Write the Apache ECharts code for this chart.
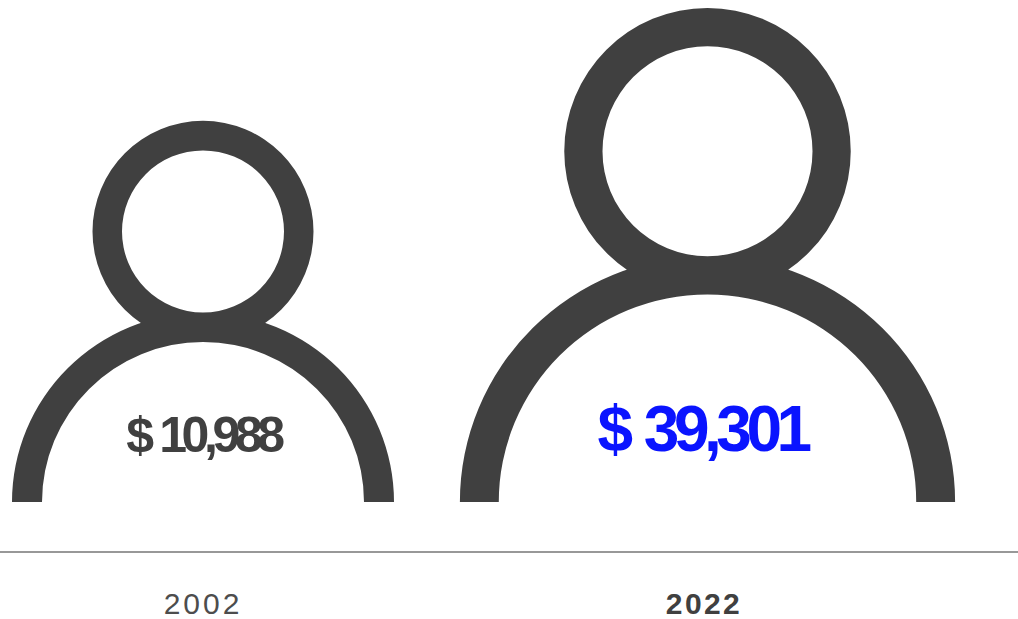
<!DOCTYPE html>
<html>
<head>
<meta charset="utf-8">
<style>
html, body { margin: 0; padding: 0; background: #fff; }
#main { width: 1018px; height: 619px; overflow: hidden; }
/* canvas text has no tracking option, so the svg renderer + css does it */
#main text[style*="50px"] { letter-spacing: -5.4px; word-spacing: 2px; }
#main text[style*="64px"] { letter-spacing: -5.5px; word-spacing: 4px; }
#main text[style*="30px"] { letter-spacing: 2.4px; }
#main text[fill="#4d4d4d"] { letter-spacing: 3px; }
</style>
<script src="https://cdn.jsdelivr.net/npm/echarts@6/dist/echarts.min.js"></script>
</head>
<body>
<div id="main"></div>
<script>
var years = ['2002', '2022'];
var income = [10988, 39301];
var iconWidths = [382, 495];
var iconHeights = [381, 494];

// person icon: head ring + arch body, in the small icon's pixels
var personPath = 'path://' +
    'M80.5 110.5A110.5 110.5 0 1 1 301.5 110.5A110.5 110.5 0 1 1 80.5 110.5Z' +
    'M272 110.5A81 81 0 1 0 110 110.5A81 81 0 1 0 272 110.5Z' +
    'M0 381A191 189.5 0 0 1 382 381L352 381A161 160 0 0 0 30 381Z';

var dark = '#404040';
var blue = '#0a14ff';

var chart = echarts.init(document.getElementById('main'), null, { renderer: 'svg' });

var option = {
    animation: false,
    grid: { left: -47.5, top: 0, width: 1503, height: 551.5, outerBoundsMode: 'none' },
    xAxis: {
        type: 'category',
        // third empty band only carries the axis line to the page edge
        data: [
            { value: years[0], textStyle: { fontSize: 30, color: '#4d4d4d' } },
            { value: years[1], textStyle: { fontSize: 30, fontWeight: 'bold', color: dark } },
            ''
        ],
        axisLine: { lineStyle: { color: '#767676', width: 1.5 } },
        axisTick: { show: false },
        axisLabel: { margin: 37, fontFamily: 'Liberation Sans', interval: 0 }
    },
    yAxis: { type: 'value', min: 0, max: 60000, show: false },
    series: [{
        type: 'pictorialBar',
        symbol: personPath,
        symbolPosition: 'start',
        silent: true,
        data: [
            {
                value: income[0],
                symbolSize: [iconWidths[0], iconHeights[0]],
                symbolOffset: [0, -49.5],
                itemStyle: { color: dark },
                label: { fontSize: 50, color: dark, offset: [0, -87] }
            },
            {
                value: income[1],
                symbolSize: [iconWidths[1], iconHeights[1]],
                symbolOffset: [3.5, -49.5],
                itemStyle: { color: dark },
                label: { fontSize: 64, color: blue, offset: [-2, -86] }
            }
        ],
        label: {
            show: true,
            position: 'insideBottom',
            fontFamily: 'Liberation Sans',
            fontWeight: 'bold',
            formatter: function (p) {
                return '$ ' + p.value.toLocaleString('en-US');
            }
        }
    }]
};
chart.setOption(option);
</script>
</body>
</html>
